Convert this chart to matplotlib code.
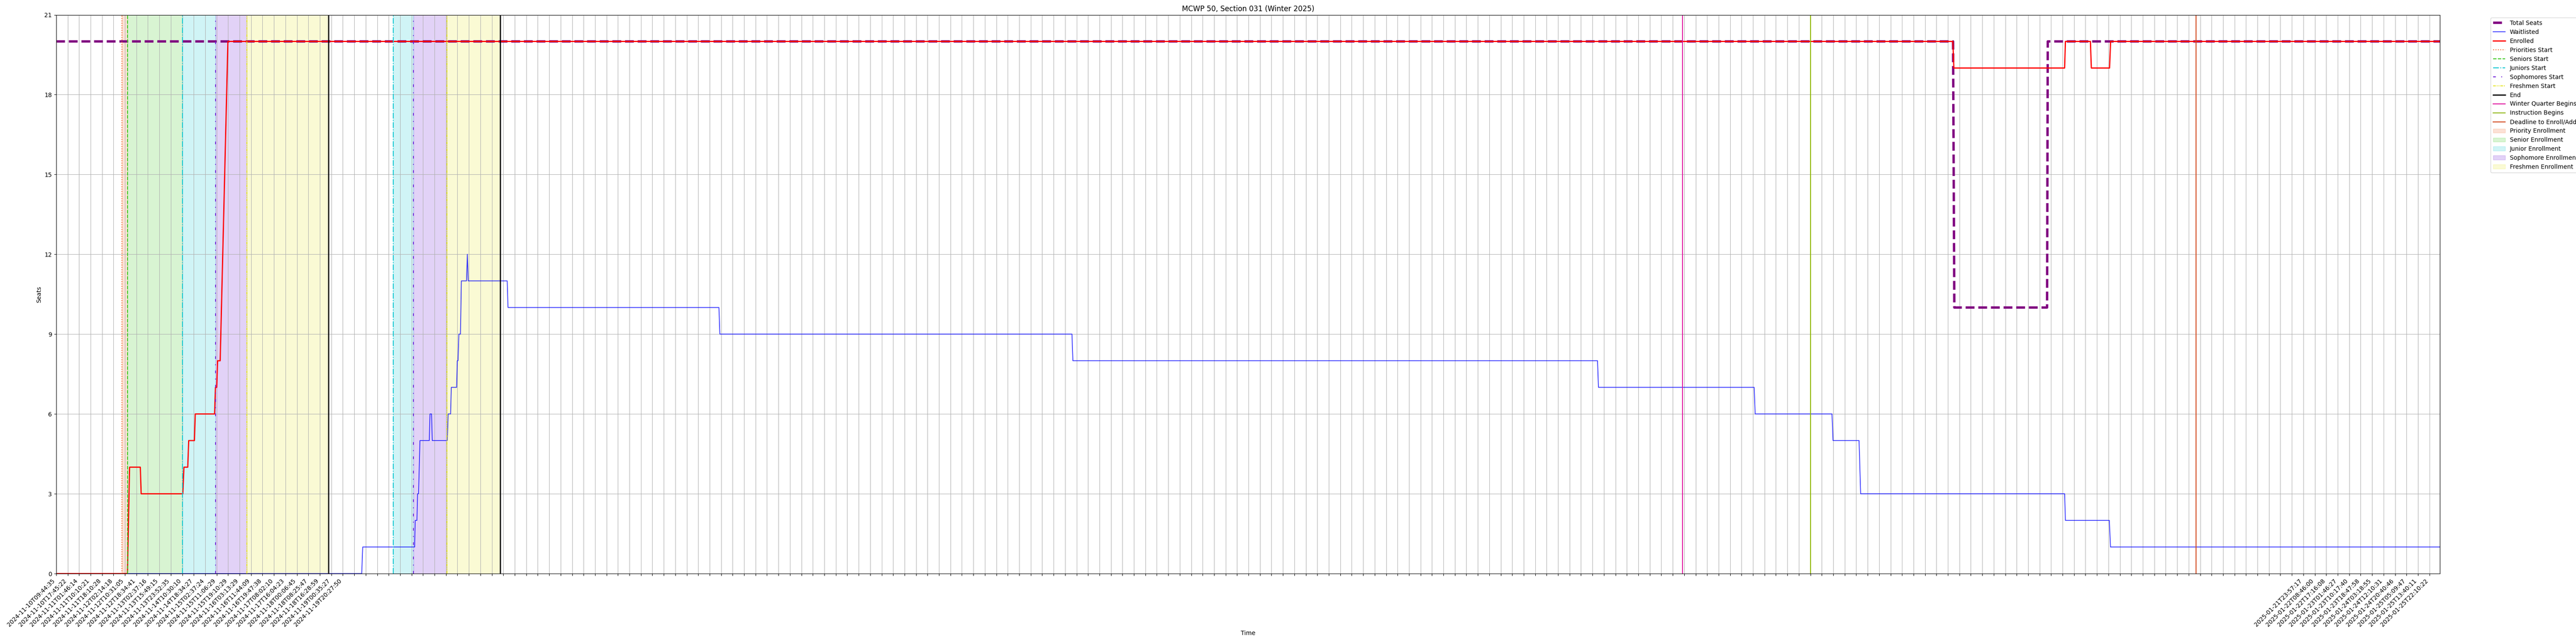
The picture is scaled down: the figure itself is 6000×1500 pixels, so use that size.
import matplotlib
matplotlib.use('Agg')
import matplotlib.pyplot as plt

# x positions are in tick units (one unit = one labelled sample step)
tick_labels_start = ['2024-11-10T09:44:35', '2024-11-10T17:45:22', '2024-11-11T01:46:14',
                     '2024-11-11T10:10:21', '2024-11-11T18:10:28', '2024-11-12T02:14:18',
                     '2024-11-12T10:31:05', '2024-11-12T18:34:41', '2024-11-13T02:37:16',
                     '2024-11-13T15:49:15', '2024-11-13T23:52:35', '2024-11-14T10:30:10',
                     '2024-11-14T18:34:27', '2024-11-15T02:37:24', '2024-11-15T11:06:29',
                     '2024-11-15T19:10:29', '2024-11-16T03:13:29', '2024-11-16T11:44:09',
                     '2024-11-16T19:47:38', '2024-11-17T08:02:10', '2024-11-17T16:04:23',
                     '2024-11-18T00:06:45', '2024-11-18T08:25:47', '2024-11-18T16:28:59',
                     '2024-11-19T00:35:27', '2024-11-19T20:27:50']
tick_labels_end = ['2025-01-21T23:57:17', '2025-01-22T08:46:00', '2025-01-22T17:16:08',
                   '2025-01-23T01:46:27', '2025-01-23T10:17:40', '2025-01-23T18:47:58',
                   '2025-01-24T03:18:55', '2025-01-24T12:10:31', '2025-01-24T20:40:46',
                   '2025-01-25T05:09:47', '2025-01-25T13:40:11', '2025-01-25T22:10:22']
tick_labels = tick_labels_start + [''] * (208 - len(tick_labels_start) - len(tick_labels_end)) + tick_labels_end
x_end = 207.92

seats_x = [0, 165.45, 165.56, 173.65, 173.71, x_end]
seats_y = [20, 20, 10, 10, 20, 20]

enrolled_x = [0, 6.216, 6.404, 7.340, 7.415, 11.047, 11.145, 11.478, 11.561, 12.059, 12.133,
              13.819, 13.894, 14.006, 14.081, 14.306, 14.980,
              165.43, 165.52, 175.18, 175.25, 177.43, 177.51, 179.10, 179.19, x_end]
enrolled_y = [0, 0, 4, 4, 3, 3, 4, 4, 5, 5, 6,
              6, 7, 7, 8, 8, 20,
              20, 19, 19, 20, 20, 19, 19, 20, 20]

wait_x = [0, 26.652, 26.738, 31.270, 31.318, 31.468, 31.521, 31.607, 31.731, 32.543, 32.607,
          32.742, 32.805, 34.116, 34.191, 34.404, 34.464, 34.929, 34.989, 35.052, 35.127,
          35.266, 35.341, 35.790, 35.865, 35.940, 39.340, 39.411, 57.807, 57.889, 88.60,
          88.68, 134.44, 134.52, 148.10, 148.19, 154.89, 154.98, 157.25, 157.39, 175.18,
          175.25, 179.08, 179.18, x_end]
wait_y = [0, 0, 1, 1, 2, 2, 3, 3, 5, 5, 6,
          6, 5, 5, 6, 6, 7, 7, 8, 8, 9,
          9, 11, 11, 12, 11, 11, 10, 10, 9, 9,
          8, 8, 7, 7, 6, 6, 5, 5, 3, 3,
          2, 2, 1, 1]

# enrollment passes: priorities, seniors, juniors, sophomores, freshmen, end
pass1 = [5.730, 6.228, 11.010, 13.894, 16.627, 23.743]
pass2 = [None, None, 29.397, 31.169, 34.067, 38.722]
winter_begins = 141.85
instruction_begins = 153.03
deadline_add = 186.64

start_names = ['Priorities Start', 'Seniors Start', 'Juniors Start', 'Sophomores Start', 'Freshmen Start']
start_colors = ['#f26b2e', '#3cc81e', '#14c8d2', '#6e1ed7', '#e6e628']
start_styles = [':', '--', '-.', (0, (3, 6, 1, 6)), (0, (3, 1, 1, 1, 1, 1))]
span_names = ['Priority Enrollment', 'Senior Enrollment', 'Junior Enrollment',
              'Sophomore Enrollment', 'Freshmen Enrollment']

fig, ax = plt.subplots(figsize=(60, 15))
fig.subplots_adjust(left=0.0218, right=0.9472, top=0.977, bottom=0.1093)

ax.plot(seats_x, seats_y, color='purple', linestyle='--', linewidth=4, label='Total Seats')
ax.plot(wait_x, wait_y, color='blue', linewidth=1.3, alpha=0.8, label='Waitlisted')
ax.plot(enrolled_x, enrolled_y, color='red', linewidth=2, label='Enrolled')

for k, p in enumerate([pass1, pass2]):
    for i in range(5):
        if p[i] is None:
            continue
        ax.axvline(p[i], color=start_colors[i], linestyle=start_styles[i], linewidth=1.5,
                   label=start_names[i] if k == 0 else None)
    ax.axvline(p[5], color='black', linewidth=2, label='End' if k == 0 else None)
ax.axvline(winter_begins, color='#e0119d', linewidth=1.5, label='Winter Quarter Begins')
ax.axvline(instruction_begins, color='#8db600', linewidth=1.5, label='Instruction Begins')
ax.axvline(deadline_add, color='#d2491e', linewidth=1.5, label='Deadline to Enroll/Add')

for k, p in enumerate([pass1, pass2]):
    for i in range(5):
        if p[i] is None:
            continue
        ax.axvspan(p[i], p[i + 1], color=start_colors[i], alpha=0.2,
                   label=span_names[i] if k == 0 else None)

ax.set_xticks(range(len(tick_labels)))
ax.set_xticklabels(tick_labels, rotation=45, ha='right')
ax.set_xlim(0, x_end)
ax.set_yticks(range(0, 22, 3))
ax.set_ylim(0, 21)
ax.grid(True)
ax.set_title('MCWP 50, Section 031 (Winter 2025)')
ax.set_xlabel('Time')
ax.set_ylabel('Seats')
ax.legend(loc='upper left', bbox_to_anchor=(1.02, 1))
plt.savefig('out.png', dpi=100)
